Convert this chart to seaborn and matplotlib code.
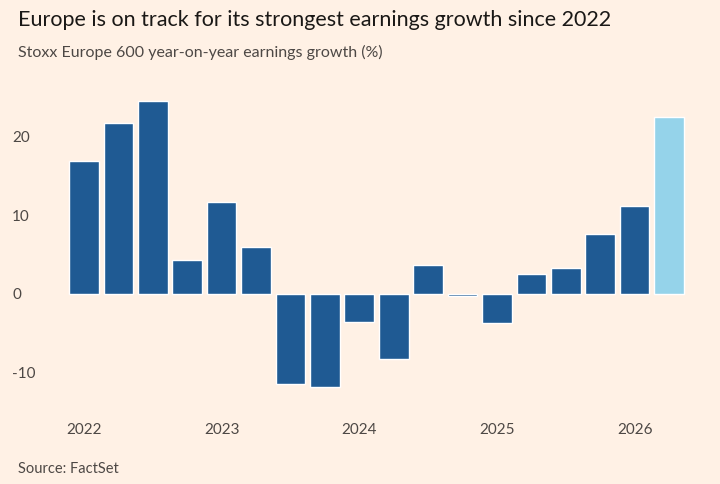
import matplotlib
matplotlib.use("Agg")
import matplotlib.pyplot as plt
import seaborn as sns
import pandas as pd

quarters = ["2022Q1","2022Q2","2022Q3","2022Q4","2023Q1","2023Q2","2023Q3","2023Q4",
            "2024Q1","2024Q2","2024Q3","2024Q4","2025Q1","2025Q2","2025Q3","2025Q4",
            "2026Q1","2026Q2"]
growth = [16.8, 21.7, 24.5, 4.3, 11.6, 6.0, -11.5, -11.8, -3.6, -8.3, 3.6, -0.3,
          -3.7, 2.5, 3.3, 7.6, 11.1, 22.4]
kind = ["actual"] * 17 + ["forecast"]
tick_labels = ["2022", "2023", "2024", "2025", "2026"]

df = pd.DataFrame({"q": quarters, "g": growth, "k": kind})
bg = "#FFF1E5"
sns.set_theme(style="white")
plt.rcParams["font.family"] = ["Lato", "DejaVu Sans"]

fig = plt.figure(figsize=(7.2, 4.84), dpi=100, facecolor=bg)
ax = fig.add_axes([65/720, 1-412/484, 623/720, (412-85)/484], facecolor=bg)
sns.barplot(data=df, x="q", y="g", hue="k", dodge=False, width=0.86,
            palette={"actual": "#1F5A93", "forecast": "#95D3EA"},
            legend=False, ax=ax, saturation=1)
ax.set_ylim(-15, 26.5)
ax.set_xlim(-0.55, 17.55)
ax.set_yticks([-10, 0, 10, 20])
ax.set_yticklabels(["-10", "0", "10", "20"])
ax.set_xticks([0, 4, 8, 12, 16])
ax.set_xticklabels(tick_labels)
ax.tick_params(axis="both", labelsize=11, colors="#4d4845", length=0)
ax.tick_params(axis="y", pad=22)
ax.tick_params(axis="x", pad=8)
for lab in ax.get_yticklabels():
    lab.set_horizontalalignment("left")
ax.yaxis.set_tick_params(pad=38)
ax.set_xlabel(""); ax.set_ylabel("")
for s in ax.spines.values():
    s.set_visible(False)

fig.text(18/720, 1-20/484, "Europe is on track for its strongest earnings growth since 2022",
         fontsize=15.5, color="#1a1816", va="center")
fig.text(18/720, 1-52/484, "Stoxx Europe 600 year-on-year earnings growth (%)",
         fontsize=11.5, color="#4d4845", va="center")
fig.text(18/720, 1-469/484, "Source: FactSet", fontsize=10.5, color="#4d4845", va="center")
fig.savefig("out.png", dpi=100, facecolor=bg)
